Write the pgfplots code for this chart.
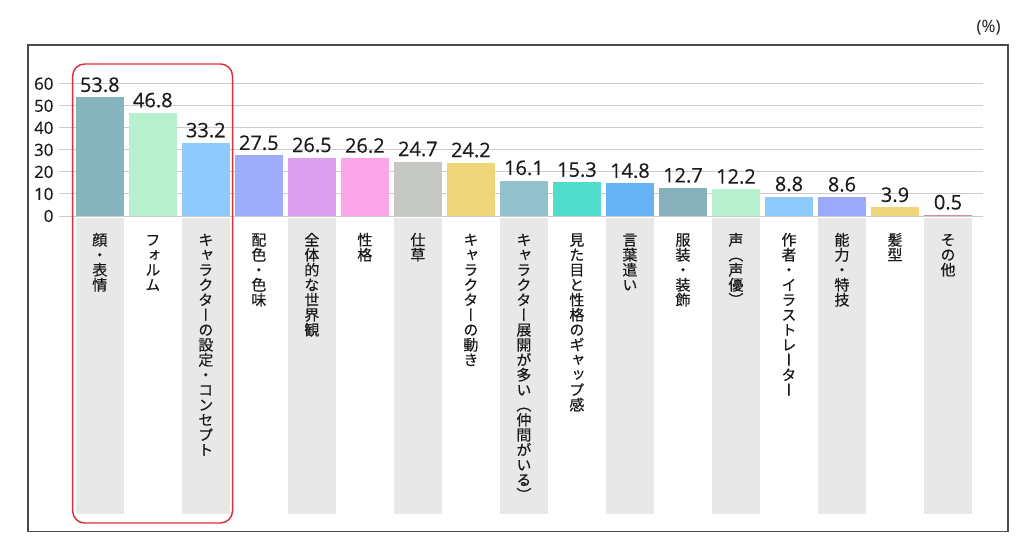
\documentclass[border=0pt]{standalone}
\usepackage{fontspec}
\setmainfont{Open Sans}
\newfontfamily\numfont[FakeBold=0.35]{Open Sans}
\newfontfamily\jpv[RawFeature=+vert, FakeBold=0.4]{Noto Sans CJK JP}
\usepackage{pgfplots}
\pgfplotsset{compat=1.18}
\definecolor{c1}{HTML}{88B4BE}
\definecolor{c2}{HTML}{B6F0CE}
\definecolor{c3}{HTML}{8ECAFC}
\definecolor{c4}{HTML}{9DACFB}
\definecolor{c5}{HTML}{DDA0EE}
\definecolor{c6}{HTML}{FBA6E8}
\definecolor{c7}{HTML}{C6C8C4}
\definecolor{c8}{HTML}{EFD57A}
\definecolor{c9}{HTML}{92C0CB}
\definecolor{c10}{HTML}{50DDCB}
\definecolor{c11}{HTML}{66B2F5}
\definecolor{c12}{HTML}{86B1BA}
\definecolor{c13}{HTML}{B7F1CF}
\definecolor{c14}{HTML}{8FCAFC}
\definecolor{c15}{HTML}{9CA9FB}
\definecolor{c16}{HTML}{F0D67A}
\definecolor{c17}{HTML}{D88C98}
\definecolor{stripc}{HTML}{E8E8E8}
\definecolor{gridc}{HTML}{CCCCCC}
\definecolor{redc}{HTML}{D9303A}
\definecolor{framec}{HTML}{4A4A4A}
\definecolor{txt}{HTML}{1A1A1A}
\makeatletter
\def\vt@end{\vt@end}
\def\vt@loop#1{\ifx#1\vt@end\else\hbox to 1em{\hss\vrule height .88em depth .12em width 0pt #1\hss}\expandafter\vt@loop\fi}
\protected\def\vt#1{\vtop{\offinterlineskip\vt@loop#1\vt@end}}
\makeatother
\begin{document}
\begin{tikzpicture}
\path (0pt,0pt) rectangle (768pt,-406.5pt);
\begin{axis}[
  set layers,
  at={(44.25pt,-162pt)}, anchor=south west,
  scale only axis, width=693pt, height=99.2pt,
  xmin=-0.77, xmax=16.66, ymin=0, ymax=60,
  ytick={0,10,...,60},
  ymajorgrids, grid style={draw=gridc, line width=0.75pt},
  axis line style={draw=none},
  major tick length=0pt,
  clip=false,
  /pgf/number format/assume math mode=true,
  xtick={0,...,16},
  xticklabels={\vt{顔・表情},\vt{フォルム},\vt{キャラクターの設定・コンセプト},\vt{配色・色味},\vt{全体的な世界観},\vt{性格},\vt{仕草},\vt{キャラクターの動き},\vt{キャラクター展開が多い（仲間がいる）},\vt{見た目と性格のギャップ感},\vt{言葉遣い},\vt{服装・装飾},\vt{声（声優）},\vt{作者・イラストレーター},\vt{能力・特技},\vt{髪型},\vt{その他}},
  xticklabel style={font=\jpv\fontsize{11.25pt}{11.25pt}\selectfont, anchor=north, inner sep=0pt, yshift=-12pt, text=txt},
  yticklabel style={font=\numfont\fontsize{12.6pt}{14pt}\selectfont, anchor=east, inner sep=0pt, xshift=-4pt, text=txt},
  every axis plot/.append style={ybar, bar width=0.9, bar shift=0pt, draw=none,
    nodes near coords={\pgfmathprintnumber[fixed,fixed zerofill,precision=1,assume math mode=true]{\pgfplotspointmeta}},
    every node near coord/.append style={font=\numfont\fontsize{15pt}{18pt}\selectfont, text=txt, anchor=south, inner sep=0pt, yshift=3.75pt}},
]
\begin{pgfonlayer}{axis background}
\fill[stripc] (axis cs:-0.45,-0.9) rectangle (axis cs:0.45,-135.1);
\fill[stripc] (axis cs:1.55,-0.9) rectangle (axis cs:2.45,-135.1);
\fill[stripc] (axis cs:3.55,-0.9) rectangle (axis cs:4.45,-135.1);
\fill[stripc] (axis cs:5.55,-0.9) rectangle (axis cs:6.45,-135.1);
\fill[stripc] (axis cs:7.55,-0.9) rectangle (axis cs:8.45,-135.1);
\fill[stripc] (axis cs:9.55,-0.9) rectangle (axis cs:10.45,-135.1);
\fill[stripc] (axis cs:11.55,-0.9) rectangle (axis cs:12.45,-135.1);
\fill[stripc] (axis cs:13.55,-0.9) rectangle (axis cs:14.45,-135.1);
\fill[stripc] (axis cs:15.55,-0.9) rectangle (axis cs:16.45,-135.1);
\end{pgfonlayer}
\addplot[fill=c1] coordinates {(0,53.8)};
\addplot[fill=c2] coordinates {(1,46.8)};
\addplot[fill=c3] coordinates {(2,33.2)};
\addplot[fill=c4] coordinates {(3,27.5)};
\addplot[fill=c5] coordinates {(4,26.5)};
\addplot[fill=c6] coordinates {(5,26.2)};
\addplot[fill=c7] coordinates {(6,24.7)};
\addplot[fill=c8] coordinates {(7,24.2)};
\addplot[fill=c9] coordinates {(8,16.1)};
\addplot[fill=c10] coordinates {(9,15.3)};
\addplot[fill=c11] coordinates {(10,14.8)};
\addplot[fill=c12] coordinates {(11,12.7)};
\addplot[fill=c13] coordinates {(12,12.2)};
\addplot[fill=c14] coordinates {(13,8.8)};
\addplot[fill=c15] coordinates {(14,8.6)};
\addplot[fill=c16] coordinates {(15,3.9)};
\addplot[fill=c17] coordinates {(16,0.5)};
\end{axis}
\draw[framec, line width=1pt] (21pt,-33.75pt) rectangle (756pt,-398.6pt);
\draw[redc, line width=1.1pt, rounded corners=9pt] (54.5pt,-48pt) rectangle (174.4pt,-392.25pt);
\node[anchor=base east, font=\fontsize{12.75pt}{15pt}\selectfont, inner sep=0pt, text=txt] at (750.75pt,-24.75pt) {(\%)};
\end{tikzpicture}
\end{document}
